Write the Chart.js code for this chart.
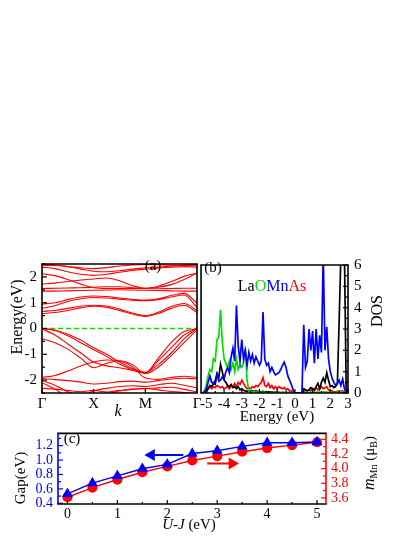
<!DOCTYPE html>
<html><head><meta charset="utf-8">
<script src="https://cdn.jsdelivr.net/npm/chart.js@4.4.1/dist/chart.umd.min.js"></script>
<style>
html,body{margin:0;padding:0;background:#fff;width:415px;height:537px;overflow:hidden;position:relative;}
canvas{position:absolute;}
</style></head><body>
<canvas id="ca" width="205" height="175" style="left:0;top:250px"></canvas>
<canvas id="cb" width="217" height="175" style="left:198px;top:250px"></canvas>
<canvas id="cc" width="415" height="117" style="left:0;top:420px"></canvas>
<script>
// ================= DATA =================
// (a) band structure
const kPoints = [0,0.25,0.5,0.75,1,1.25,1.5,1.75,2,2.25,2.5,2.75,3];
const kTickPos = [0,1,2,3];
const kTickLabels = ['Γ','X','M','Γ'];
const energyTicksA = [-2,-1,0,1,2];
const bandC1 = [0.58,0.62,0.70,0.80,0.86,0.82,0.70,0.56,0.47,0.58,0.78,0.90,0.62];
const bandC2 = [0.66,0.70,0.78,0.86,0.90,0.87,0.75,0.60,0.50,0.63,0.85,0.97,0.70];
const bandC3 = [0.78,0.88,1.05,1.15,1.20,1.18,1.14,1.10,1.08,1.12,1.22,1.30,0.82];
const bandC4 = [0.95,1.00,1.12,1.22,1.26,1.24,1.18,1.13,1.10,1.15,1.28,1.36,0.98];
const bandC5 = [1.45,1.45,1.46,1.47,1.48,1.49,1.50,1.49,1.48,1.47,1.46,1.45,1.45];
const bandC6 = [1.55,1.56,1.57,1.58,1.60,1.62,1.62,1.58,1.55,1.54,1.55,1.56,1.56];
const bandC7 = [1.72,1.76,1.82,1.88,1.92,1.96,1.85,1.66,1.56,1.64,1.82,2.02,2.15];
const bandC8 = [2.12,2.05,1.90,1.72,1.58,1.55,1.55,1.55,1.56,1.60,1.70,1.90,2.15];
const bandC9 = [2.38,2.32,2.20,2.10,2.06,2.10,2.18,2.25,2.30,2.34,2.38,2.40,2.38];
const bandC10 = [2.45,2.44,2.40,2.35,2.32,2.36,2.42,2.46,2.48,2.47,2.45,2.44,2.45];
const bandC11 = [2.48,2.46,2.40,2.30,2.22,2.20,2.24,2.30,2.35,2.38,2.42,2.46,2.48];
const bandV1 = [0.00,-0.06,-0.22,-0.45,-0.75,-1.00,-1.30,-1.55,-1.70,-1.40,-0.95,-0.40,0.00];
const bandV2 = [0.00,-0.08,-0.28,-0.55,-0.82,-1.08,-1.38,-1.60,-1.72,-1.25,-0.75,-0.25,0.00];
const bandV3 = [-0.02,-0.25,-0.60,-0.95,-1.30,-1.45,-1.52,-1.62,-1.72,-1.15,-0.55,-0.12,-0.02];
const bandV4 = [-0.40,-0.55,-0.80,-1.15,-1.52,-1.35,-1.25,-1.40,-1.75,-1.50,-1.05,-0.55,-0.05];
const bandV5 = [-1.90,-1.82,-1.65,-1.45,-1.30,-1.22,-1.26,-1.48,-1.92,-1.97,-1.90,-1.85,-1.90];
const bandV6 = [-1.95,-1.98,-2.02,-2.08,-2.15,-2.12,-2.06,-2.04,-2.08,-2.02,-1.96,-1.93,-1.95];
const bandV7 = [-2.02,-2.20,-2.45,-2.60,-2.42,-2.32,-2.25,-2.22,-2.25,-2.18,-2.12,-2.20,-2.30];
const bandV8 = [-2.10,-2.35,-2.65,-2.80,-2.70,-2.55,-2.42,-2.35,-2.33,-2.30,-2.28,-2.36,-2.45];
const bandV9 = [-2.32,-2.35,-2.40,-2.45,-2.40,-2.46,-2.40,-2.36,-2.32,-2.38,-2.44,-2.48,-2.52];
const fermiLevel = 0;

// (b) density of states
const dosEnergy = [
 -5.3,-5.2,-5.1,-5.0,-4.9,-4.8,-4.7,-4.6,-4.5,-4.4,
 -4.3,-4.2,-4.1,-4.0,-3.9,-3.8,-3.7,-3.6,-3.5,-3.4,
 -3.3,-3.2,-3.1,-3.0,-2.9,-2.8,-2.7,-2.6,-2.5,-2.4,
 -2.3,-2.2,-2.1,-2.0,-1.9,-1.8,-1.7,-1.6,-1.5,-1.4,
 -1.3,-1.2,-1.1,-1.0,-0.9,-0.8,-0.7,-0.6,-0.5,-0.4,
 -0.3,-0.2,-0.1,0.0,0.1,0.2,0.3,0.4,0.5,0.6,
 0.7,0.8,0.9,1.0,1.1,1.2,1.3,1.4,1.5,1.6,
 1.7,1.8,1.9,2.0,2.1,2.2,2.3,2.4,2.5,2.6,
 2.7,2.8,2.9,3.0];
const dosMn = [
 0,0,0.05,0.2,0.5,0.8,0.5,0.45,0.6,0.9,
 0.55,0.6,0.75,0.65,1.0,1.2,0.95,1.7,2.1,1.5,
 4.1,2.2,1.5,2.5,1.6,2.0,1.3,1.9,1.5,1.8,
 1.4,1.7,1.5,1.3,1.5,3.8,1.6,1.3,1.4,1.0,
 1.2,1.0,0.85,0.9,0.95,1.1,1.3,1.45,1.2,0.8,
 0.6,0.4,0.15,0,0,0,0,0,3.2,1.2,
 1.5,3.0,2.0,2.9,1.4,3.0,1.6,2.7,1.9,6.5,
 2.0,3.1,1.6,1.0,0.7,0.5,0.35,0.45,0.6,0.35,
 0.65,0.2,0,0];
const dosO = [
 0,0,0.1,0.4,0.8,1.1,1.0,1.6,1.5,2.5,
 2.6,3.9,2.4,1.6,1.4,1.2,1.5,1.1,1.4,1.0,
 1.6,1.1,1.3,1.2,1.4,2.1,0.6,0.1,0.05,0.05,
 0.05,0.04,0.04,0.03,0.03,0.03,0.03,0.02,0.02,0.02,
 0.02,0.02,0.02,0.02,0.02,0.01,0.01,0.01,0.01,0.01,
 0.01,0.01,0,0,0,0,0,0,0.03,0.02,
 0.02,0.03,0.03,0.02,0.03,0.04,0.04,0.03,0.04,0.05,
 0.05,0.04,0.03,0.03,0.02,0.02,0.02,0.03,0.04,0.05,
 0.04,0.03,0,0];
const dosLa = [
 0,0,0,0.05,0.2,0.35,0.3,0.45,0.4,0.9,
 0.7,1.35,1.0,0.6,0.5,0.35,0.3,0.4,0.25,0.3,
 0.2,0.3,0.15,0.2,0.12,0.1,0.08,0.1,0.08,0.1,
 0.08,0.1,0.07,0.08,0.06,0.08,0.05,0.06,0.04,0.05,
 0.04,0.03,0.04,0.03,0.03,0.02,0.03,0.02,0.02,0.02,
 0.02,0.01,0,0,0,0,0,0,0.2,0.15,
 0.1,0.15,0.25,0.2,0.15,0.3,0.45,0.2,0.5,0.7,
 0.5,0.95,0.6,0.3,0.35,0.25,0.3,0.45,3.4,6.5,
 6.5,6.5,0.1,0];
const dosAs = [
 0,0,0.1,0.25,0.2,0.3,0.2,0.3,0.25,0.35,
 0.3,0.25,0.3,0.2,0.25,0.3,0.2,0.35,0.3,0.45,
 0.3,0.5,0.4,0.6,0.45,0.3,0.2,0.25,0.2,0.3,
 0.25,0.35,0.3,0.4,0.5,0.72,0.35,0.3,0.45,0.25,
 0.35,0.2,0.3,0.2,0.3,0.25,0.2,0.25,0.15,0.2,
 0.1,0.1,0.02,0,0,0,0,0,0.15,0.1,
 0.1,0.15,0.1,0.2,0.1,0.25,0.15,0.2,0.3,0.2,
 0.25,0.3,0.15,0.1,0.1,0.05,0.05,0.08,0.1,0.08,
 0.1,0.05,0,0];

// (c) gap and Mn moment vs U-J
const ujValues = [0,0.5,1,1.5,2,2.5,3,3.5,4,4.5,5];
const gapValues = [0.53,0.68,0.78,0.88,0.94,1.09,1.13,1.19,1.24,1.24,1.25];
const mMnValues = [3.61,3.74,3.85,3.95,4.03,4.11,4.17,4.23,4.28,4.32,4.36];
const arrowGapX = [1.68,2.32], arrowGapY = 1.07;
const arrowMX = [2.8,3.3], arrowMY = 4.07;

// ================= STYLE / HELPERS =================
const SERIF = '"Liberation Serif", "Times New Roman", serif';
const RED = '#ff0000', BLUE = '#0000ff', GREEN = '#00e000', BLACK = '#000000';
Chart.defaults.font.family = SERIF;
Chart.defaults.font.size = 14;
Chart.defaults.color = '#000';
Chart.defaults.animation = false;

function drawRich(ctx, x, y, segs, rot) {
  ctx.save();
  ctx.translate(x, y);
  if (rot) ctx.rotate(rot);
  let w = 0;
  segs.forEach(s => { ctx.font = s.font; w += ctx.measureText(s.t).width; });
  let cx = -w / 2;
  ctx.textBaseline = 'middle';
  ctx.textAlign = 'left';
  segs.forEach(s => {
    ctx.font = s.font; ctx.fillStyle = s.color || '#000';
    ctx.fillText(s.t, cx, s.dy || 0);
    cx += ctx.measureText(s.t).width;
  });
  ctx.restore();
}

const deco = {
  id: 'deco',
  afterDraw(chart, args, o) {
    const ctx = chart.ctx, a = chart.chartArea;
    ctx.save();
    (o.ticks || []).forEach(t => {
      const s = chart.scales[t.scale];
      const vals = s.ticks.map(k => k.value);
      const marks = vals.map(v => [v, t.len]);
      if (t.minor && vals.length > 1) {
        const step = vals[1] - vals[0];
        for (let v = vals[0] - step / 2; v <= s.max + 1e-9; v += step)
          if (v >= s.min - 1e-9) marks.push([v, t.minor]);
      }
      ctx.strokeStyle = t.color || '#000';
      ctx.lineWidth = t.width || 1.2;
      marks.forEach(([v, len]) => {
        const p = s.getPixelForValue(v);
        ctx.beginPath();
        if (t.side === 'left') { ctx.moveTo(a.left, p); ctx.lineTo(a.left + len, p); }
        else if (t.side === 'right') { ctx.moveTo(a.right, p); ctx.lineTo(a.right - len, p); }
        else if (t.side === 'bottom') { ctx.moveTo(p, a.bottom); ctx.lineTo(p, a.bottom - len); }
        else { ctx.moveTo(p, a.top); ctx.lineTo(p, a.top + len); }
        ctx.stroke();
      });
    });
    const f = o.frame;
    if (f) {
      const lw = f.width || 1.6;
      ctx.lineWidth = lw;
      const side = (c, x1, y1, x2, y2) => { ctx.strokeStyle = c; ctx.beginPath(); ctx.moveTo(x1, y1); ctx.lineTo(x2, y2); ctx.stroke(); };
      side(f.top || '#000', a.left - lw / 2, a.top, a.right + lw / 2, a.top);
      side(f.bottom || '#000', a.left - lw / 2, a.bottom, a.right + lw / 2, a.bottom);
      side(f.left || '#000', a.left, a.top, a.left, a.bottom);
      side(f.right || '#000', a.right, a.top, a.right, a.bottom);
    }
    (o.texts || []).forEach(t => drawRich(ctx, t.x, t.y, t.segs, t.rot || 0));
    ctx.restore();
  }
};
Chart.register(deco);

const F = (size, style, w) => `${style || ''} ${w || ''} ${size}px ${SERIF}`;
const noGrid = { display: false, drawTicks: false };
const noBorder = { display: false };

// ================= (a) BANDS =================
const bandList = [bandC1,bandC2,bandC3,bandC4,bandC5,bandC6,bandC7,bandC8,bandC9,bandC10,bandC11,
                  bandV1,bandV2,bandV3,bandV4,bandV5,bandV6,bandV7,bandV8,bandV9];
const bandSets = bandList.map(b => ({
  data: kPoints.map((k, i) => ({ x: k, y: b[i] })),
  borderColor: RED, borderWidth: 1.1, pointRadius: 0, cubicInterpolationMode: 'monotone', fill: false
}));
bandSets.push({
  data: [{ x: kTickPos[0], y: fermiLevel }, { x: kTickPos[kTickPos.length - 1], y: fermiLevel }],
  borderColor: GREEN, borderWidth: 1.6, borderDash: [5, 3], pointRadius: 0
});

new Chart(document.getElementById('ca'), {
  type: 'line',
  data: { datasets: bandSets },
  options: {
    responsive: false, devicePixelRatio: 1,
    layout: { padding: { top: 7, right: 8, left: 0, bottom: 0 } },
    plugins: {
      legend: { display: false }, tooltip: { enabled: false },
      deco: {
        frame: { width: 1.6 },
        ticks: [
          { scale: 'y', side: 'left', len: 5, minor: 3 },
          { scale: 'x', side: 'bottom', len: 4 }
        ],
        texts: [
          { x: 18, y: 67, rot: -Math.PI / 2, segs: [{ t: 'Energy(eV)', font: F(16) }] },
          { x: 153, y: 16, segs: [{ t: '(a)', font: F(15) }] },
          { x: 118, y: 162, segs: [{ t: 'k', font: F(16, 'italic') }] }
        ]
      }
    },
    scales: {
      x: {
        type: 'linear', min: kTickPos[0], max: kTickPos[kTickPos.length - 1],
        grid: noGrid, border: noBorder,
        afterBuildTicks: s => { s.ticks = kTickPos.map(v => ({ value: v })); },
        afterFit: s => { s.height = 32; },
        ticks: { padding: 2, maxRotation: 0, autoSkip: false, font: { size: 15 },
                 callback: (v, i) => kTickLabels[i] }
      },
      y: {
        min: -2.5, max: 2.5, grid: noGrid, border: noBorder,
        afterBuildTicks: s => { s.ticks = energyTicksA.map(v => ({ value: v })); },
        afterFit: s => { s.width = 42; },
        ticks: { padding: 5, autoSkip: false, font: { size: 15 } }
      }
    }
  }
});

// ================= (b) DOS =================
const dosSet = (vals, color) => ({
  data: dosEnergy.map((e, i) => ({ x: e, y: vals[i] })),
  borderColor: color, borderWidth: 1.7, pointRadius: 0, tension: 0, yAxisID: 'y'
});
new Chart(document.getElementById('cb'), {
  type: 'line',
  data: { datasets: [dosSet(dosMn, BLUE), dosSet(dosO, GREEN), dosSet(dosLa, BLACK), dosSet(dosAs, RED)] },
  options: {
    responsive: false, devicePixelRatio: 1,
    layout: { padding: { top: 7, right: 0, left: 3, bottom: 0 } },
    plugins: {
      legend: { display: false }, tooltip: { enabled: false },
      deco: {
        frame: { width: 1.6 },
        ticks: [
          { scale: 'y', side: 'right', len: 5, minor: 3 },
          { scale: 'x', side: 'bottom', len: 4, minor: 2 }
        ],
        texts: [
          { x: 15, y: 18, segs: [{ t: '(b)', font: F(15) }] },
          { x: 74, y: 37, segs: [
            { t: 'La', font: F(16), color: BLACK },
            { t: 'O', font: F(16), color: GREEN },
            { t: 'Mn', font: F(16), color: BLUE },
            { t: 'As', font: F(16), color: RED }] },
          { x: 79, y: 167, segs: [{ t: 'Energy (eV)', font: F(15) }] },
          { x: 180, y: 61, rot: -Math.PI / 2, segs: [{ t: 'DOS', font: F(16) }] }
        ]
      }
    },
    scales: {
      x: {
        type: 'linear', min: -5.3, max: 3.0, grid: noGrid, border: noBorder,
        afterFit: s => { s.height = 32; },
        ticks: { stepSize: 1, includeBounds: false, padding: 2, maxRotation: 0, autoSkip: false, font: { size: 15 } }
      },
      y: {
        position: 'right', min: 0, max: 6, grid: noGrid, border: noBorder,
        afterFit: s => { s.width = 67; },
        ticks: { stepSize: 1, padding: 6, autoSkip: false, font: { size: 15 } }
      }
    }
  }
});

// ================= (c) GAP / MOMENT =================
new Chart(document.getElementById('cc'), {
  type: 'line',
  data: { datasets: [
    { data: ujValues.map((u, i) => ({ x: u, y: gapValues[i] })), yAxisID: 'yL',
      borderColor: BLUE, backgroundColor: BLUE, borderWidth: 1.5,
      pointStyle: 'triangle', pointRadius: 4.8, tension: 0 },
    { data: ujValues.map((u, i) => ({ x: u, y: mMnValues[i] })), yAxisID: 'yR',
      borderColor: RED, backgroundColor: RED, borderWidth: 1.5,
      pointStyle: 'circle', pointRadius: 4.3, tension: 0 },
    { data: arrowGapX.map(x => ({ x, y: arrowGapY })), yAxisID: 'yL',
      borderColor: BLUE, backgroundColor: BLUE, borderWidth: 2,
      pointStyle: 'triangle', pointRadius: [5, 0], pointRotation: 270 },
    { data: arrowMX.map(x => ({ x, y: arrowMY })), yAxisID: 'yR',
      borderColor: RED, backgroundColor: RED, borderWidth: 2,
      pointStyle: 'triangle', pointRadius: [0, 5], pointRotation: 90 }
  ] },
  options: {
    responsive: false, devicePixelRatio: 1,
    layout: { padding: { top: 6, right: 0, left: 0, bottom: 0 } },
    plugins: {
      legend: { display: false }, tooltip: { enabled: false },
      deco: {
        frame: { width: 1.6, left: BLUE, right: RED },
        ticks: [
          { scale: 'yL', side: 'left', len: 5, minor: 3, color: BLUE },
          { scale: 'yR', side: 'right', len: 5, minor: 3, color: RED },
          { scale: 'x', side: 'bottom', len: 4, minor: 2 }
        ],
        texts: [
          { x: 72, y: 19, segs: [{ t: '(c)', font: F(15) }] },
          { x: 21, y: 58, rot: -Math.PI / 2, segs: [{ t: 'Gap(eV)', font: F(15) }] },
          { x: 370, y: 43, rot: -Math.PI / 2, segs: [
            { t: 'm', font: F(16, 'italic') },
            { t: 'Mn', font: F(10), dy: 4 },
            { t: ' (μ', font: F(15) },
            { t: 'B', font: F(10), dy: 4 },
            { t: ')', font: F(15) }] },
          { x: 189, y: 105, segs: [
            { t: 'U-J', font: F(15, 'italic') },
            { t: ' (eV)', font: F(15) }] }
        ]
      }
    },
    scales: {
      x: {
        type: 'linear', min: -0.19, max: 5.18, grid: noGrid, border: noBorder,
        afterFit: s => { s.height = 33; },
        ticks: { stepSize: 1, includeBounds: false, padding: 2, autoSkip: false, font: { size: 14 } }
      },
      yL: {
        position: 'left', min: 0.39, max: 1.37, grid: noGrid, border: noBorder,
        afterFit: s => { s.width = 58; },
        ticks: { stepSize: 0.2, includeBounds: false, padding: 5, autoSkip: false, color: BLUE, font: { size: 14 },
                 callback: v => Number(v).toFixed(1) }
      },
      yR: {
        position: 'right', min: 3.517, max: 4.48, grid: noGrid, border: noBorder,
        afterFit: s => { s.width = 89; },
        ticks: { stepSize: 0.2, includeBounds: false, padding: 5, autoSkip: false, color: RED, font: { size: 14 },
                 callback: v => Number(v).toFixed(1) }
      }
    }
  }
});
</script>
</body></html>
